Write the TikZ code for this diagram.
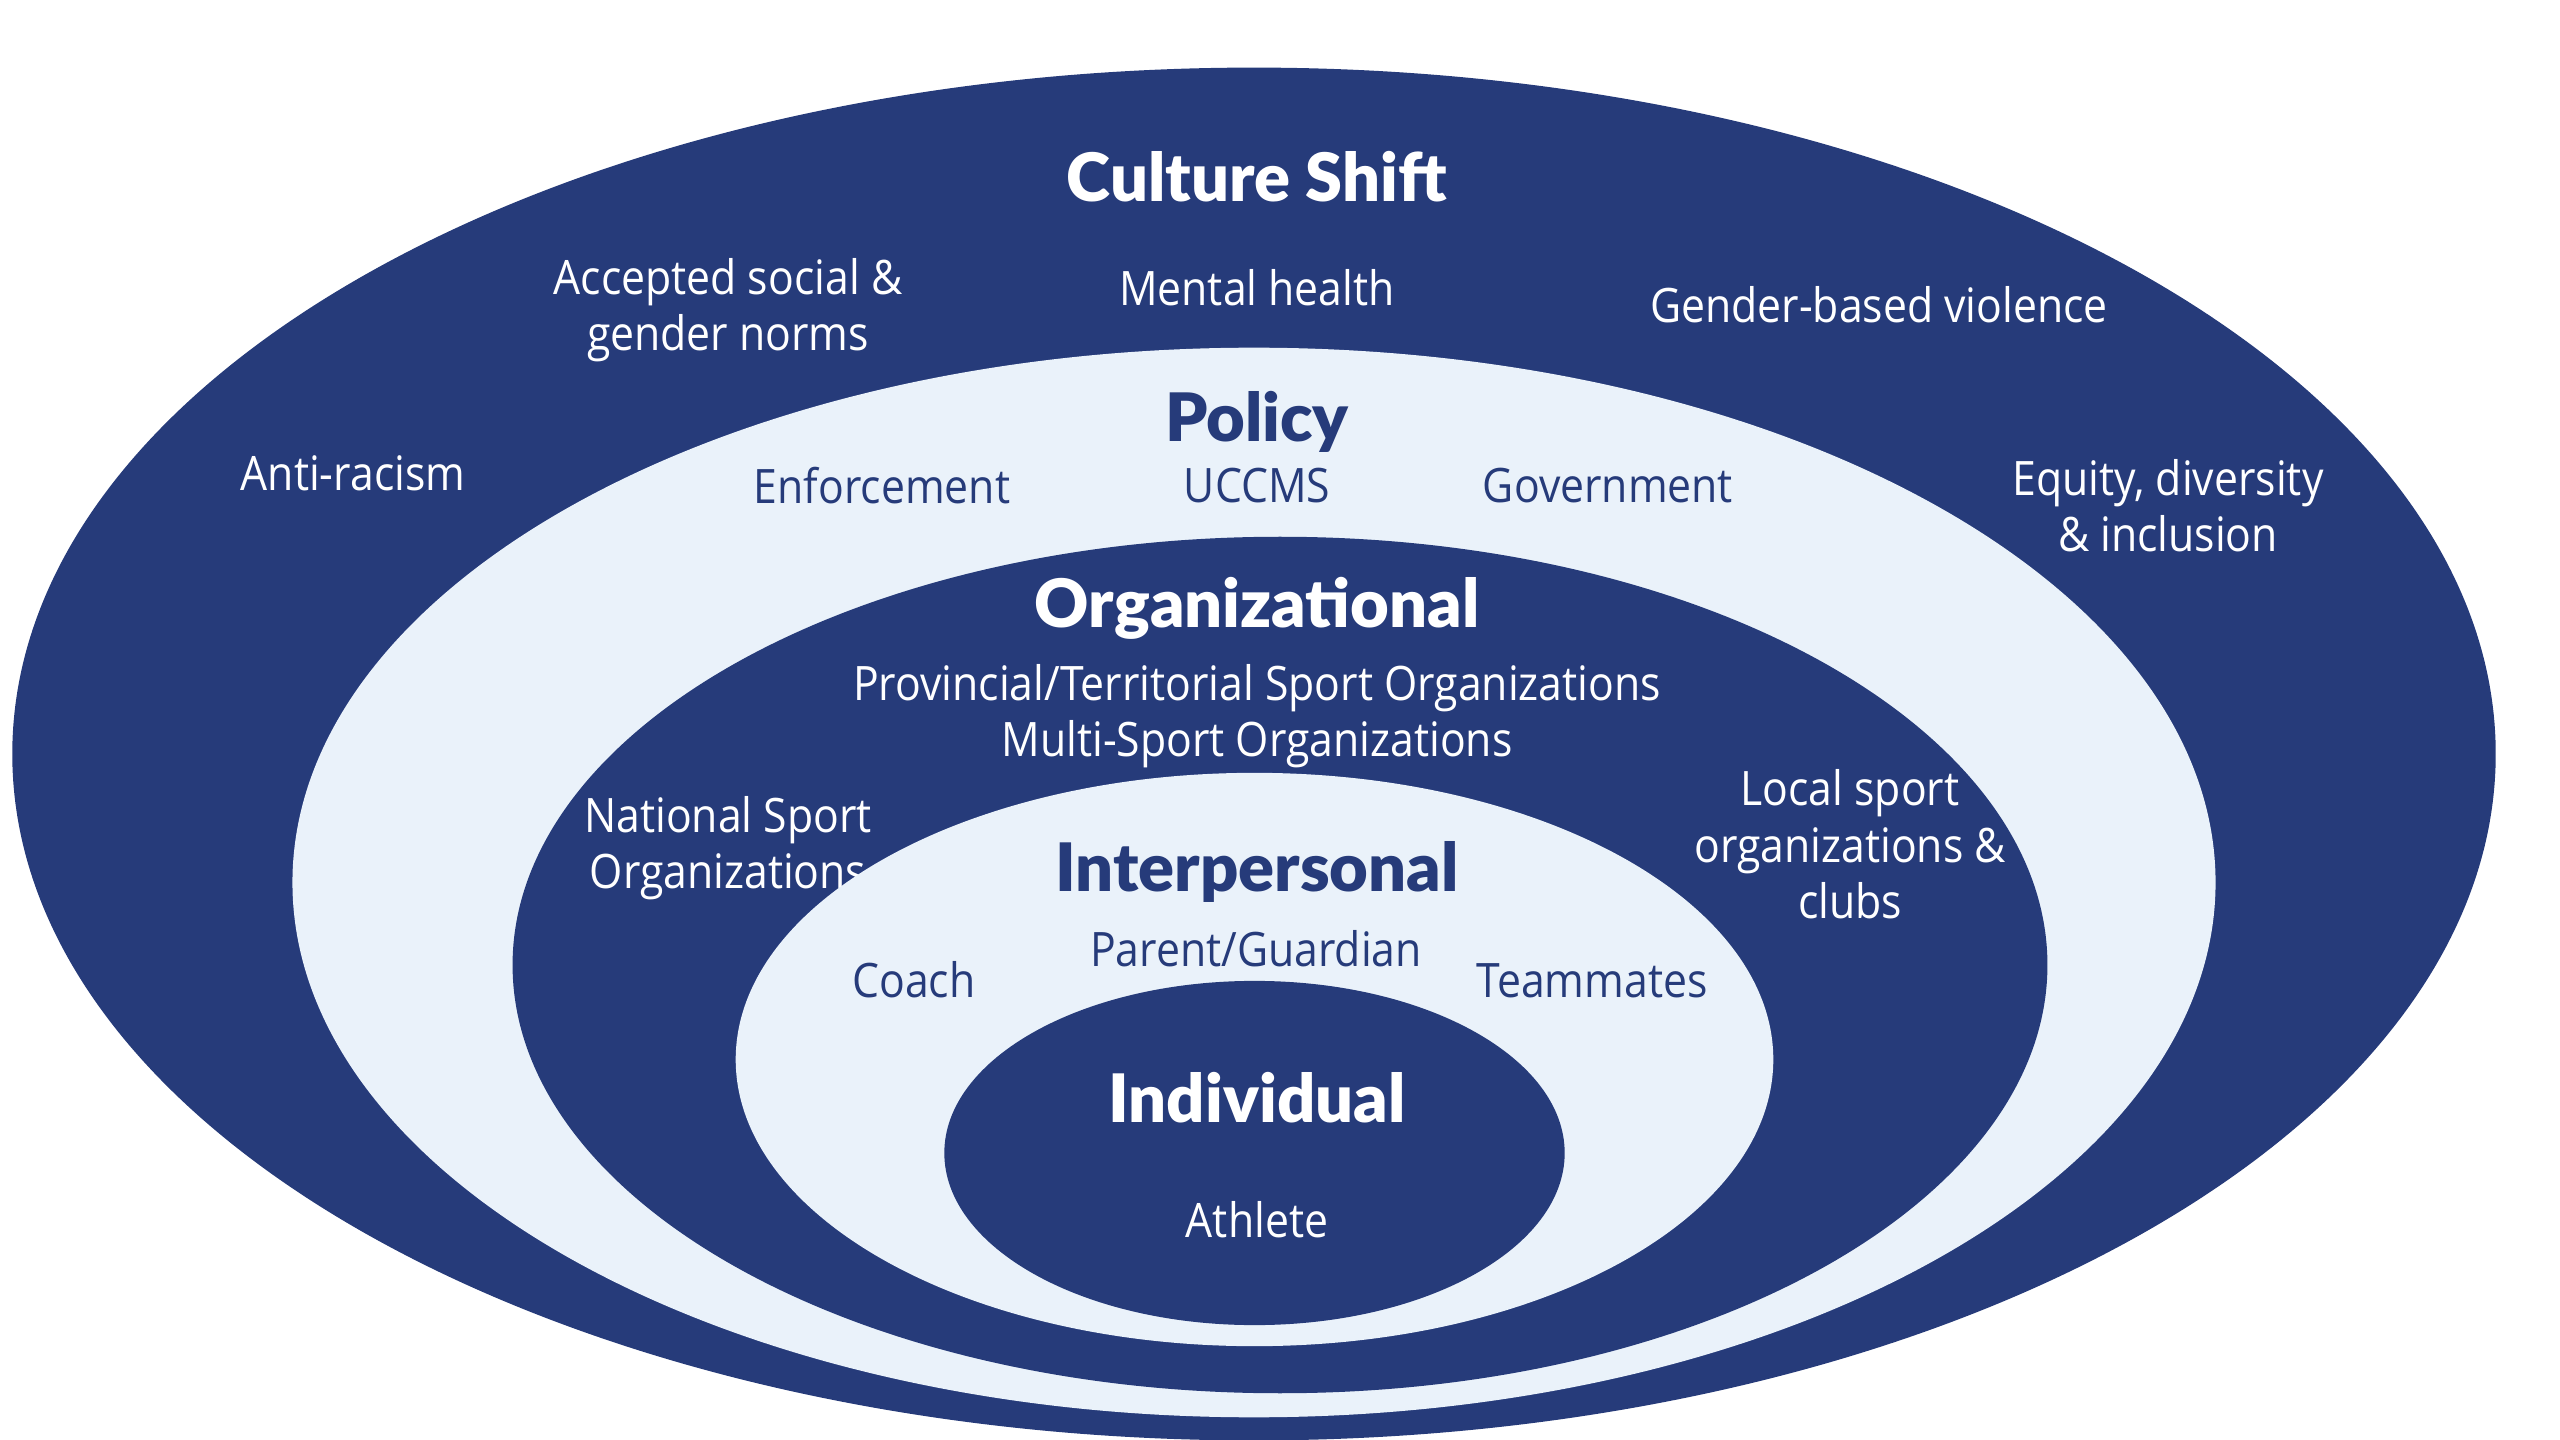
\documentclass[tikz,border=0pt]{standalone}
\usepackage{fontspec}
\setmainfont{Open Sans}[FakeStretch=0.9]
\newfontfamily\headfont{Lato Black}
\definecolor{navy}{RGB}{38,59,122}
\definecolor{pale}{RGB}{234,242,250}
\tikzset{
  body/.style={anchor=base, inner sep=0pt, align=center, font=\fontsize{13.5pt}{16.2pt}\selectfont},
  head/.style={anchor=base, inner sep=0pt, font=\headfont\fontsize{19pt}{21pt}\selectfont},
  onDark/.style={text=white},
  onLight/.style={text=navy},
}
\begin{document}
\begin{tikzpicture}[x=0.01cm,y=-0.01cm]
\useasboundingbox (0,0) rectangle (2560,1440);
% Culture shift ring
\fill[navy] (1254,754) ellipse [x radius=12.41cm, y radius=6.86cm];
\node[head,onDark] (culture) at (1257,202) {Culture Shift};
\node[body,onDark] (norms) at (728,351) {Accepted social \&\\gender norms};
\node[body,onDark] (mental) at (1257,306) {Mental health};
\node[body,onDark] (gbv) at (1879,323) {Gender-based violence};
\node[body,onDark] (racism) at (353,491) {Anti-racism};
\node[body,onDark] (edi) at (2168,552) {Equity, diversity\\\& inclusion};
% Policy ring
\fill[pale] (1254,882.5) ellipse [x radius=9.61cm, y radius=5.345cm];
\node[head,onLight] (policy) at (1257,442) {Policy};
\node[body,onLight] (enforce) at (882,504) {Enforcement};
\node[body,onLight] (uccms) at (1257,503) {UCCMS};
\node[body,onLight] (gov) at (1608,503) {Government};
% Organizational ring
\fill[navy] (1280,965) ellipse [x radius=7.67cm, y radius=4.28cm];
\node[head,onDark] (org) at (1257,628) {Organizational};
\node[body,onDark] (pto) at (1257,757) {Provincial/Territorial Sport Organizations\\Multi-Sport Organizations};
\node[body,onDark] (nso) at (728,889) {National Sport\\Organizations};
\node[body,onDark] (local) at (1850,919) {Local sport\\organizations \&\\clubs};
% Interpersonal ring
\fill[pale] (1254.5,1059.5) ellipse [x radius=5.185cm, y radius=2.865cm];
\node[head,onLight] (inter) at (1257,892) {Interpersonal};
\node[body,onLight] (coach) at (914,997) {Coach};
\node[body,onLight] (parent) at (1256,966) {Parent/Guardian};
\node[body,onLight] (team) at (1592,997) {Teammates};
% Individual core
\fill[navy] (1254.5,1153) ellipse [x radius=3.10cm, y radius=1.72cm];
\node[head,onDark] (indiv) at (1257,1122) {Individual};
\node[body,onDark] (athlete) at (1257,1237) {Athlete};
\end{tikzpicture}
\end{document}
